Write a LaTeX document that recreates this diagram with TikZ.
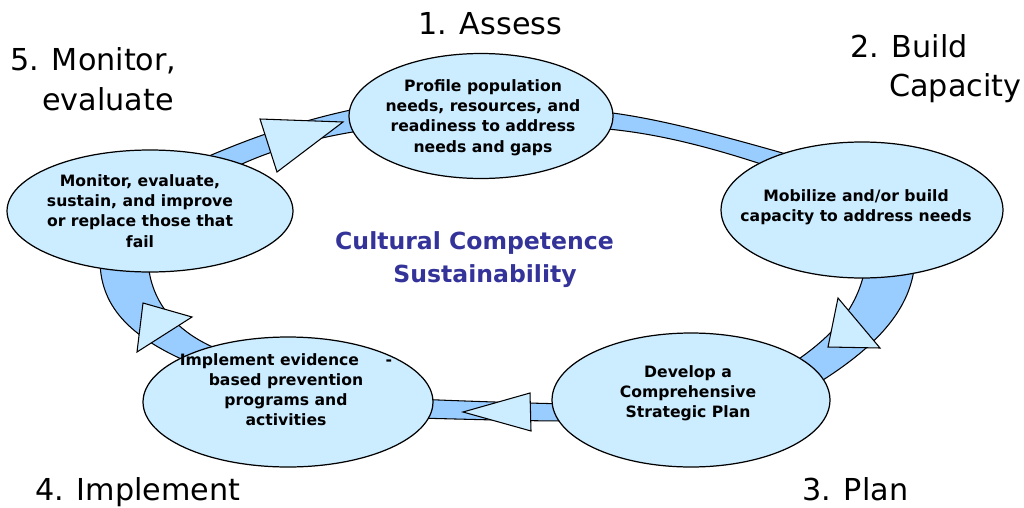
\documentclass[tikz,border=0pt]{standalone}
\usepackage{fontspec}
\setmainfont{DejaVu Sans}
\usetikzlibrary{shapes.geometric}
\definecolor{bubblefill}{HTML}{CCECFF}
\definecolor{bandfill}{HTML}{99CCFF}
\definecolor{navy}{HTML}{333399}
\begin{document}
\begin{tikzpicture}[x=0.02cm,y=-0.02cm,
  bubble/.style={ellipse, draw=black, line width=0.7pt, fill=bubblefill, inner sep=0pt},
  bandpath/.style={draw=black, line width=0.6pt, fill=bandfill},
  head/.style={draw=black, line width=0.6pt, fill=bubblefill, line join=miter},
  btext/.style={align=center, font=\fontsize{8.9}{11.5}\selectfont\bfseries, inner sep=0pt},
  stagelabel/.style={anchor=base west, inner sep=0pt, font=\fontsize{17.2}{20}\selectfont},
  centertext/.style={align=center, text=navy, font=\fontsize{13.4}{18.7}\selectfont\bfseries, inner sep=0pt}
]
\useasboundingbox (0,0) rectangle (1024,507);

% bands (connectors between stages)
\draw[bandpath] (195,162) .. controls (250,138) and (300,120) .. (365,107)
  -- (365,130) .. controls (300,140) and (255,155) .. (210,180) -- cycle;
\draw[bandpath] (595,111) .. controls (650,116) and (720,135) .. (800,158)
  -- (785,172) .. controls (715,148) and (655,132) .. (595,128) -- cycle;
\draw[bandpath] (915,255) .. controls (915,305) and (880,345) .. (815,385)
  -- (790,365) .. controls (835,335) and (862,305) .. (867,255) -- cycle;
\draw[bandpath] (570,404) .. controls (520,403) and (460,401) .. (415,399)
  -- (415,418) .. controls (460,419) and (520,421) .. (570,421) -- cycle;
\draw[bandpath] (100,260) .. controls (100,310) and (135,340) .. (195,365)
  -- (215,348) .. controls (180,333) and (150,305) .. (148,260) -- cycle;

% arrowheads
\draw[head] (260,119) -- (277,172) -- (343,122) -- cycle;
\draw[head] (838,298) -- (828,347) -- (880,348) -- cycle;
\draw[head] (530,393) -- (531,431) -- (463,412) -- cycle;
\draw[head] (143,303) -- (192,317) -- (137,352) -- cycle;

% stage ellipses
\node[bubble, minimum width=5.28cm, minimum height=2.50cm] (e1) at (481,116) {};
\node[bubble, minimum width=5.64cm, minimum height=2.72cm] (e2) at (862,210) {};
\node[bubble, minimum width=5.56cm, minimum height=2.68cm] (e3) at (691,400) {};
\node[bubble, minimum width=5.80cm, minimum height=2.60cm] (e4) at (288,402) {};
\node[bubble, minimum width=5.72cm, minimum height=2.44cm] (e5) at (150,211) {};

% texts in ellipses
\node[btext] (t1) at (483,117.5) {Profile population\\needs, resources, and\\readiness to address\\needs and gaps};
\node[btext] (t2) at (856,207) {Mobilize and/or build\\capacity to address needs};
\node[btext] (t3) at (688,393) {Develop a\\Comprehensive\\Strategic Plan};
\node[btext] (t4) at (286,389.5) {Implement evidence\hspace{1.7em}-\\based prevention\\programs and\\activities};
\node[btext] (t5) at (140,211) {Monitor, evaluate,\\sustain, and improve\\or replace those that\\fail};

% centre
\node[centertext] (ctr) at (474.5,259.5) {Cultural Competence\\\hspace{12pt}Sustainability};

% stage labels
\node[stagelabel] (l1) at (418,34) {1. Assess};
\node[stagelabel] (l2a) at (850,57) {2. Build};
\node[stagelabel] (l2b) at (889,96) {Capacity};
\node[stagelabel] (l5a) at (10,70) {5. Monitor,};
\node[stagelabel] (l5b) at (42,110) {evaluate};
\node[stagelabel] (l4) at (35,500) {4. Implement};
\node[stagelabel] (l3) at (802,500) {3. Plan};
\end{tikzpicture}
\end{document}
